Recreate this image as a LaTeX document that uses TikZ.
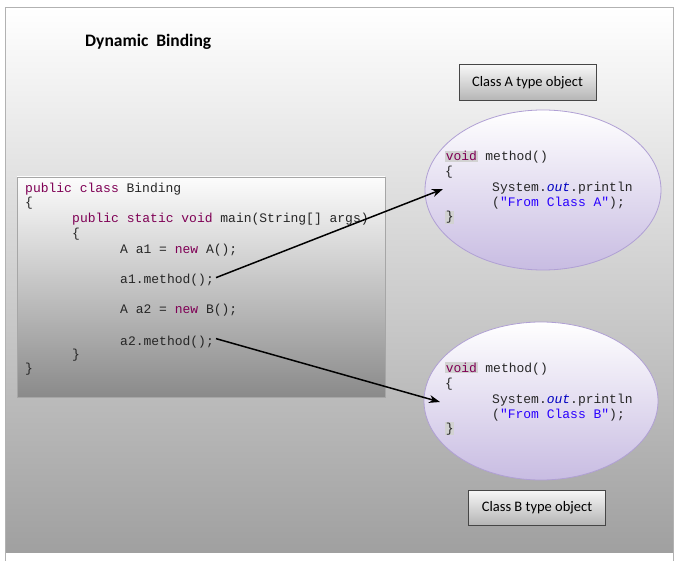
\documentclass[tikz,border=0pt]{standalone}
\usepackage{fontspec}
\setmainfont{Carlito}
\newfontfamily\codefont{Liberation Mono}
\usetikzlibrary{arrows.meta,shapes.geometric,calc}
\definecolor{kw}{HTML}{7F0055}
\definecolor{jblue}{HTML}{2A00FF}
\definecolor{jfield}{HTML}{0000C0}
\definecolor{bgbot}{HTML}{A0A0A0}
\definecolor{codebot}{HTML}{8A8A8A}
\definecolor{lav}{HTML}{C8BCE2}
\definecolor{lavline}{HTML}{B0A0D4}
\newcommand{\kwd}[1]{\textcolor{kw}{#1}}
\newcommand{\hlbox}[1]{{\setlength{\fboxsep}{0.6pt}\colorbox{gray!35}{#1}}}
\begin{document}
\begin{tikzpicture}[x=1pt,y=-1pt,
  code/.style={anchor=base west,inner sep=0pt,font=\codefont\fontsize{13}{15}\selectfont,text=black!85},
  objbox/.style={draw=gray!55!black,top color=gray!6,bottom color=gray!58,minimum width=137pt,minimum height=36pt,inner sep=0pt,font=\fontsize{14.5}{16}\selectfont},
  objell/.style={ellipse,draw=lavline,line width=0.8pt,top color=white,bottom color=lav,inner sep=0pt},
  callarrow/.style={line width=1.5pt,-{Stealth[length=11pt,width=8pt]}}]
\useasboundingbox (0,0) rectangle (680,561);
% background panel
\shade[top color=white,bottom color=bgbot] (5,7) rectangle (673,552);
\draw[gray!60,line width=0.6pt] (5,561) -- (5,7) -- (673,7) -- (673,561);
% title
\node[anchor=west,inner sep=0pt,font=\bfseries\fontsize{17.5}{20}\selectfont] (title) at (85,42) {Dynamic\ \ Binding};
% code box
\shade[top color=gray!2,bottom color=codebot] (17,177) rectangle (385,397);
\draw[gray!70,line width=0.7pt] (17,177) rectangle (385,397);
\node[code] (l1) at (25,193) {\kwd{public} \kwd{class} Binding};
\node[code] (l2) at (25,207) {\{};
\node[code] (l3) at (72,223) {\kwd{public} \kwd{static} \kwd{void} main(String[] args)};
\node[code] (l4) at (72,238) {\{};
\node[code] (l5) at (120,254) {A a1 = \kwd{new} A();};
\node[code] (l6) at (120,284) {a1.method();};
\node[code] (l7) at (120,314) {A a2 = \kwd{new} B();};
\node[code] (l8) at (120,345) {a2.method();};
\node[code] (l9) at (72,358) {\}};
\node[code] (l10) at (25,372) {\}};
% objects
\node[objell,minimum width=236pt,minimum height=160pt] (ellA) at (543,190) {};
\node[objell,minimum width=234pt,minimum height=158pt] (ellB) at (541,401) {};
\node[objbox] (boxA) at (527.5,82.5) {Class A type object};
\node[objbox,minimum height=35pt] (boxB) at (537,507.5) {Class B type object};
% method A
\node[code] (a1) at (445,161) {\hlbox{\kwd{void}} method()};
\node[code] (a2) at (445,176) {\{};
\node[code] (a3) at (492,192) {System.\textcolor{jfield}{\itshape out}.println};
\node[code] (a4) at (492,207) {(\textcolor{jblue}{"From Class A"});};
\node[code] (a5) at (445,221) {\hlbox{\}}};
% method B
\node[code] (b1) at (445,372) {\hlbox{\kwd{void}} method()};
\node[code] (b2) at (445,387) {\{};
\node[code] (b3) at (492,403) {System.\textcolor{jfield}{\itshape out}.println};
\node[code] (b4) at (492,418) {(\textcolor{jblue}{"From Class B"});};
\node[code] (b5) at (445,432) {\hlbox{\}}};
% arrows
\coordinate (tA) at (443,189);
\coordinate (tB) at (440,402);
\draw[callarrow] ($(l6.east)+(2,-3)$) -- (tA);
\draw[callarrow] ($(l8.east)+(2,-3)$) -- (tB);
\end{tikzpicture}
\end{document}
